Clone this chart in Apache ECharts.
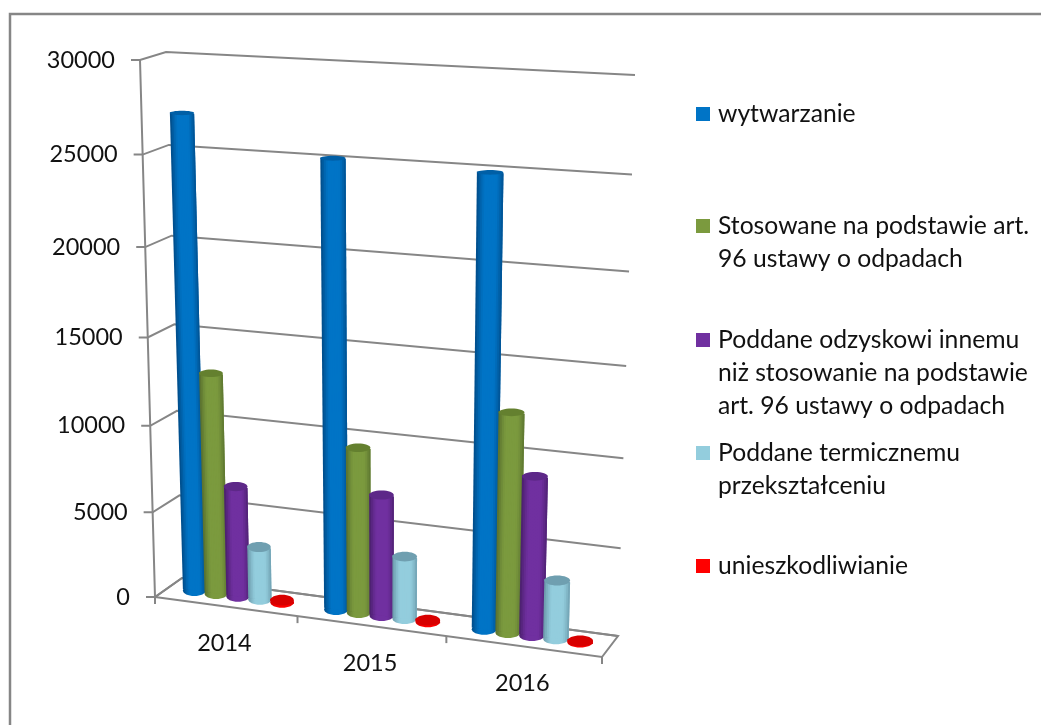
<!DOCTYPE html>
<html><head><meta charset="utf-8">
<style>html,body{margin:0;padding:0;background:#fff}#c{width:1041px;height:725px}</style>
<script src="https://cdn.jsdelivr.net/npm/echarts@6/dist/echarts.min.js"></script>
</head><body><div id="c"></div>
<script>
var categories = ['2014','2015','2016'];
var yTicks = [0,5000,10000,15000,20000,25000,30000];
var wytwarzanie = [27050,25150,24950];
var stosowane = [12850,9500,12350];
var odzysk = [6480,6970,8980];
var termiczne = [3100,3600,3320];
var unieszkodliwianie = [120,90,60];
var seriesNames = ['wytwarzanie','Stosowane na podstawie art.\n96 ustawy o odpadach','Poddane odzyskowi innemu\nniż stosowanie na podstawie\nart. 96 ustawy o odpadach','Poddane termicznemu\nprzekształceniu','unieszkodliwianie'];
var seriesValues = [wytwarzanie,stosowane,odzysk,termiczne,unieszkodliwianie];
var bodyColors = ['#0074C6','#7B9A3E','#7030A0','#93CDDD','#FF0000'];
var edgeColors = ['#00508f','#5c7430','#4e2172','#6f9fb0','#d00000'];
var topColors  = ['#005fa6','#64802f','#5d2888','#6f9fb0','#d80000'];
var legendY = [114,226,340,453,566];

var GRID = {left:155,top:60,width:450,height:537};
var FONT = 'Lato, Carlito, "Noto Sans", sans-serif';
var AXIS = '#868686';

function homography(q){
  var x0=q[0][0],y0=q[0][1],x1=q[1][0],y1=q[1][1],x2=q[2][0],y2=q[2][1],x3=q[3][0],y3=q[3][1];
  var dx1=x1-x2,dx2=x3-x2,sx=x0-x1+x2-x3,dy1=y1-y2,dy2=y3-y2,sy=y0-y1+y2-y3;
  var den=dx1*dy2-dx2*dy1,g=(sx*dy2-dx2*sy)/den,h=(dx1*sy-sx*dy1)/den;
  var a=x1-x0+g*x1,b=x3-x0+h*x3,d=y1-y0+g*y1,e=y3-y0+h*y3;
  return function(u,v){var t=g*u+h*v+1;return [(a*u+b*v+x0)/t,(d*u+e*v+y0)/t];};
}
var front = homography([[140,60],[619,85],[602,657],[155,597]]);
var back  = homography([[166,52],[635,75],[618,636],[182,578]]);
function warpUV(u,v,w){var a=front(u,v),b=back(u,v);return [a[0]+(b[0]-a[0])*w,a[1]+(b[1]-a[1])*w];}
function warp(p,w){return warpUV((p[0]-GRID.left)/GRID.width,(p[1]-GRID.top)/GRID.height,w);}
function line(pts,wd){return {type:'polyline',shape:{points:pts},style:{fill:null,stroke:AXIS,lineWidth:wd||2}};}

var BAR_DEPTH=0.52, SLOT=0.156, SHIFT=-0.005, BAR_W=0.165, STRIPS=14;
function shadeAt(t,s){
  var m=Math.abs(t-0.52)/0.48;
  var k=m<0.42?0:Math.min(1,Math.pow((m-0.42)/0.58,1.4));
  return echarts.color.lerp(k,[bodyColors[s],edgeColors[s]]);
}
function lerpPt(q,r,t){return [q[0]+(r[0]-q[0])*t,q[1]+(r[1]-q[1])*t];}
function barRender(s){
  return function(params,api){
    var i=api.value(0), val=api.value(1);
    var base=api.coord([i,0]), top=api.coord([i,val]), band=api.size([1,0])[0];
    var cx=base[0]+(s-2)*band*SLOT+SHIFT*band, hw=band*BAR_W/2;
    var bl=warp([cx-hw,base[1]],BAR_DEPTH), br=warp([cx+hw,base[1]],BAR_DEPTH);
    var tl=warp([cx-hw,top[1]],BAR_DEPTH), tr=warp([cx+hw,top[1]],BAR_DEPTH);
    var v=(top[1]-GRID.top)/GRID.height;
    var topRy=1.8+3.6*v, baseRy=5.5;
    var stops=[];
    for(var k=0;k<=STRIPS;k++){stops.push({offset:k/STRIPS,color:shadeAt(k/STRIPS,s)});}
    var kids=[{type:'ellipse',shape:{cx:(bl[0]+br[0])/2,cy:(bl[1]+br[1])/2,rx:(br[0]-bl[0])/2,ry:baseRy},
      style:{fill:new echarts.graphic.LinearGradient(0,0,1,0,stops)}}];
    for(var j=0;j<STRIPS;j++){
      var a=j/STRIPS, b=Math.min(1,(j+2)/STRIPS);
      kids.push({type:'polygon',shape:{points:[lerpPt(bl,br,a),lerpPt(bl,br,b),lerpPt(tl,tr,b),lerpPt(tl,tr,a)]},
        style:{fill:shadeAt((j+0.5)/STRIPS,s)}});
    }
    kids.push({type:'ellipse',shape:{cx:(tl[0]+tr[0])/2,cy:(tl[1]+tr[1])/2,rx:(tr[0]-tl[0])/2,ry:topRy},style:{fill:topColors[s]}});
    return {type:'group',children:kids};
  };
}
function frameY(params,api){
  var t=api.value(0), c=api.coord([0,t]), v=(c[1]-GRID.top)/GRID.height;
  var f=warpUV(0,v,0), b=warpUV(0,v,1), r=warpUV(1,v,1);
  return {type:'group',children:[
    line([[f[0]-9,f[1]],f,b,r]),
    {type:'text',style:{text:String(t),x:f[0]-25,y:f[1],align:'right',verticalAlign:'middle',font:'23.5px '+FONT,fill:'#111'}}
  ]};
}
function frameX(params,api){
  var i=api.value(0), c=api.coord([i,0]), band=api.size([1,0])[0];
  var g=warp([c[0],c[1]],0), a=warp([c[0]+band/2,c[1]],0);
  var kids=[line([a,[a[0],a[1]+7]]),
    {type:'text',style:{text:categories[i],x:g[0]-1,y:g[1]+37,align:'center',verticalAlign:'middle',font:'23.5px '+FONT,fill:'#111'}}];
  if(i===0){
    var o=warpUV(0,1,0);
    kids.push(line([o,[o[0],o[1]+7]]));
    kids.push(line([warpUV(0,0,0),o,warpUV(0,1,1)]));
    kids.push(line([o,warpUV(1,1,0),warpUV(1,1,1),warpUV(0,1,1)]));
  }
  return {type:'group',children:kids};
}
var series=[
  {type:'custom',name:'siatka',silent:true,clip:false,coordinateSystem:'cartesian2d',data:yTicks.map(function(t){return [t];}),encode:{y:0},renderItem:frameY},
  {type:'custom',name:'kategorie',silent:true,clip:false,coordinateSystem:'cartesian2d',data:categories.map(function(c,i){return [i];}),encode:{x:0},renderItem:frameX}
];
seriesNames.forEach(function(n,s){
  series.push({type:'custom',name:n,clip:false,coordinateSystem:'cartesian2d',
    data:seriesValues[s].map(function(v,i){return [i,v];}),encode:{x:0,y:1},renderItem:barRender(s)});
});
var graphic=[{type:'polyline',silent:true,shape:{points:[[10,740],[10,14],[1060,14]]},style:{fill:null,stroke:AXIS,lineWidth:2.5}}];
seriesNames.forEach(function(n,s){
  graphic.push({type:'rect',silent:true,shape:{x:696,y:legendY[s]-7,width:14,height:14},style:{fill:bodyColors[s]}});
  graphic.push({type:'text',silent:true,style:{text:n,x:718,y:legendY[s]-16,font:'24.7px '+FONT,lineHeight:33,fill:'#111'}});
});
var chart=echarts.init(document.getElementById('c'),null,{renderer:'canvas'});
chart.setOption({animation:false,backgroundColor:'#fff',
  grid:GRID,
  xAxis:{type:'category',data:categories,show:false},
  yAxis:{type:'value',min:0,max:30000,interval:5000,show:false},
  graphic:graphic,series:series});
</script></body></html>
